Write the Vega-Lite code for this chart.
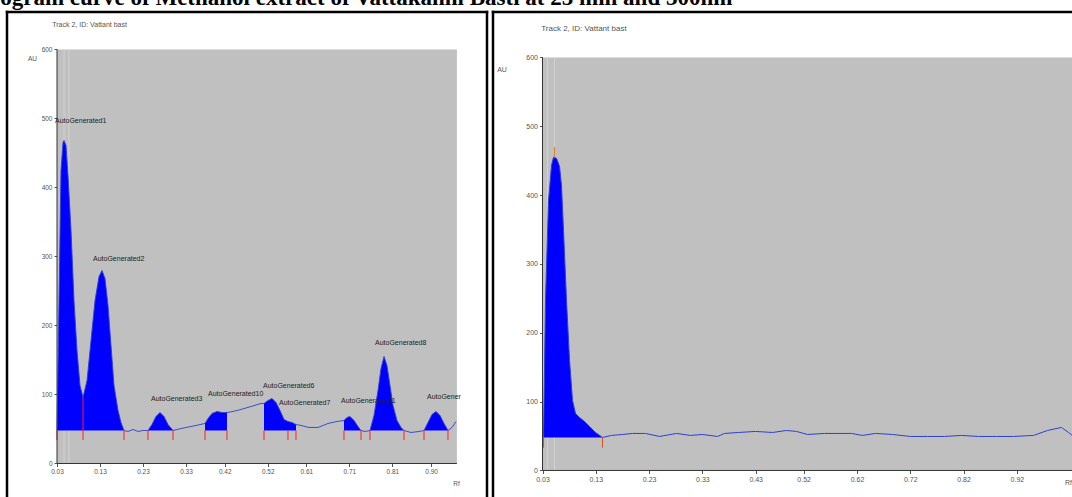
{
 "$schema": "https://vega.github.io/schema/vega-lite/v6.json",
 "padding": {"left": 0, "top": -13, "right": 0, "bottom": 0},
 "background": "white",
 "title": {"text": "ogram curve of Methanol extract of Vattakanni Basti at 25 min and 300nm", "anchor": "start", "frame": "bounds", "font": "Liberation Serif", "fontSize": 23, "fontWeight": "bold", "color": "black", "baseline": "alphabetic", "offset": -18, "dx": -5},
 "spacing": 2,
 "config": {"view": {"stroke": null}, "font": "Liberation Sans"},
 "datasets": {
  "one": [{}],
  "left": [
   {"rf":0.0300,"au":47.8,"peak":"P1"},{"rf":0.0347,"au":236.2,"peak":"P1"},{"rf":0.0393,"au":424.6,"peak":"P1"},{"rf":0.0440,"au":465.2,"peak":"P1"},{"rf":0.0463,"au":468.1,"peak":"P1"},{"rf":0.0509,"au":460.9,"peak":"P1"},{"rf":0.0556,"au":417.4,"peak":"P1"},{"rf":0.0626,"au":337.7,"peak":"P1"},{"rf":0.0695,"au":236.2,"peak":"P1"},{"rf":0.0765,"au":163.8,"peak":"P1"},{"rf":0.0835,"au":113.0,"peak":"P1"},{"rf":0.0905,"au":95.7,"peak":"P1"},
   {"rf":0.0905,"au":95.7,"peak":"P2"},{"rf":0.0998,"au":120.3,"peak":"P2"},{"rf":0.1091,"au":178.3,"peak":"P2"},{"rf":0.1184,"au":236.2,"peak":"P2"},{"rf":0.1277,"au":271.0,"peak":"P2"},{"rf":0.1347,"au":279.7,"peak":"P2"},{"rf":0.1416,"au":268.1,"peak":"P2"},{"rf":0.1486,"au":229.0,"peak":"P2"},{"rf":0.1556,"au":171.0,"peak":"P2"},{"rf":0.1626,"au":113.0,"peak":"P2"},{"rf":0.1719,"au":76.8,"peak":"P2"},{"rf":0.1788,"au":59.4,"peak":"P2"},{"rf":0.1858,"au":47.8,"peak":"P2"},
   {"rf":0.1951,"au":46.4,"peak":""},{"rf":0.2067,"au":49.3,"peak":""},{"rf":0.2184,"au":46.4,"peak":""},{"rf":0.2300,"au":47.8,"peak":""},
   {"rf":0.2416,"au":47.8,"peak":"P3"},{"rf":0.2509,"au":56.5,"peak":"P3"},{"rf":0.2602,"au":68.1,"peak":"P3"},{"rf":0.2695,"au":73.9,"peak":"P3"},{"rf":0.2788,"au":68.1,"peak":"P3"},{"rf":0.2881,"au":56.5,"peak":"P3"},{"rf":0.2998,"au":47.8,"peak":"P3"},
   {"rf":0.3091,"au":49.3,"peak":""},{"rf":0.3300,"au":52.2,"peak":""},{"rf":0.3533,"au":55.1,"peak":""},
   {"rf":0.3742,"au":58.0,"peak":"P4"},{"rf":0.3812,"au":65.2,"peak":"P4"},{"rf":0.3905,"au":72.5,"peak":"P4"},{"rf":0.4021,"au":75.4,"peak":"P4"},{"rf":0.4137,"au":73.9,"peak":"P4"},{"rf":0.4253,"au":73.9,"peak":"P4"},
   {"rf":0.4393,"au":75.4,"peak":""},{"rf":0.4579,"au":78.3,"peak":""},{"rf":0.4812,"au":82.6,"peak":""},{"rf":0.5044,"au":87.0,"peak":""},
   {"rf":0.5114,"au":87.0,"peak":"P5"},{"rf":0.5207,"au":91.3,"peak":"P5"},{"rf":0.5300,"au":94.2,"peak":"P5"},{"rf":0.5393,"au":88.4,"peak":"P5"},{"rf":0.5486,"au":76.8,"peak":"P5"},{"rf":0.5579,"au":63.8,"peak":"P5"},{"rf":0.5672,"au":60.9,"peak":"P5"},{"rf":0.5765,"au":59.4,"peak":"P5"},{"rf":0.5858,"au":56.5,"peak":"P5"},
   {"rf":0.5974,"au":55.1,"peak":""},{"rf":0.6160,"au":52.2,"peak":""},{"rf":0.6370,"au":52.2,"peak":""},{"rf":0.6602,"au":58.0,"peak":""},{"rf":0.6812,"au":60.9,"peak":""},
   {"rf":0.6974,"au":62.3,"peak":"P7"},{"rf":0.7044,"au":66.7,"peak":"P7"},{"rf":0.7114,"au":68.1,"peak":"P7"},{"rf":0.7207,"au":62.3,"peak":"P7"},{"rf":0.7300,"au":53.6,"peak":"P7"},{"rf":0.7370,"au":47.8,"peak":"P7"},
   {"rf":0.7463,"au":46.4,"peak":""},
   {"rf":0.7579,"au":47.8,"peak":"P8"},{"rf":0.7672,"au":69.6,"peak":"P8"},{"rf":0.7765,"au":105.8,"peak":"P8"},{"rf":0.7835,"au":137.7,"peak":"P8"},{"rf":0.7905,"au":155.1,"peak":"P8"},{"rf":0.7974,"au":142.0,"peak":"P8"},{"rf":0.8044,"au":113.0,"peak":"P8"},{"rf":0.8114,"au":84.1,"peak":"P8"},{"rf":0.8207,"au":62.3,"peak":"P8"},{"rf":0.8300,"au":52.2,"peak":"P8"},{"rf":0.8370,"au":47.8,"peak":"P8"},
   {"rf":0.8533,"au":44.9,"peak":""},{"rf":0.8719,"au":46.4,"peak":""},
   {"rf":0.8835,"au":47.8,"peak":"P9"},{"rf":0.8928,"au":59.4,"peak":"P9"},{"rf":0.9021,"au":71.0,"peak":"P9"},{"rf":0.9114,"au":75.4,"peak":"P9"},{"rf":0.9207,"au":69.6,"peak":"P9"},{"rf":0.9300,"au":58.0,"peak":"P9"},{"rf":0.9393,"au":47.8,"peak":"P9"},
   {"rf":0.9486,"au":52.2,"peak":""},{"rf":0.9579,"au":60.9,"peak":""}
  ],
  "leftBounds": [
   {"rf":0.0300,"top":48},{"rf":0.0905,"top":95.7},{"rf":0.1858,"top":48},{"rf":0.2416,"top":48},{"rf":0.2998,"top":48},{"rf":0.3742,"top":48},{"rf":0.4253,"top":48},{"rf":0.5114,"top":48},{"rf":0.5672,"top":48},{"rf":0.5858,"top":48},{"rf":0.6974,"top":48},{"rf":0.7370,"top":48},{"rf":0.7579,"top":48},{"rf":0.8370,"top":48},{"rf":0.8835,"top":48},{"rf":0.9393,"top":48}
  ],
  "leftLabels": [
   {"name":"AutoGenerated1","rf":0.0463,"au":497},
   {"name":"AutoGenerated2","rf":0.1347,"au":297},
   {"name":"AutoGenerated3","rf":0.2695,"au":94},
   {"name":"AutoGenerated10","rf":0.4021,"au":101},
   {"name":"AutoGenerated6","rf":0.5300,"au":112},
   {"name":"AutoGenerated7","rf":0.5672,"au":87},
   {"name":"AutoGenerated11","rf":0.7114,"au":91},
   {"name":"AutoGenerated8","rf":0.7905,"au":175},
   {"name":"AutoGener","rf":0.9114,"au":96}
  ],
  "right": [
   {"rf":0.0319,"au":48.0,"peak":"R1"},{"rf":0.0356,"au":247.1,"peak":"R1"},{"rf":0.0413,"au":392.4,"peak":"R1"},{"rf":0.0469,"au":443.3,"peak":"R1"},{"rf":0.0506,"au":454.9,"peak":"R1"},{"rf":0.0563,"au":453.5,"peak":"R1"},{"rf":0.0619,"au":441.9,"peak":"R1"},{"rf":0.0656,"au":414.2,"peak":"R1"},{"rf":0.0694,"au":348.8,"peak":"R1"},{"rf":0.0750,"au":247.1,"peak":"R1"},{"rf":0.0807,"au":159.9,"peak":"R1"},{"rf":0.0863,"au":101.7,"peak":"R1"},{"rf":0.0919,"au":82.8,"peak":"R1"},{"rf":0.0994,"au":77.0,"peak":"R1"},{"rf":0.1088,"au":71.2,"peak":"R1"},{"rf":0.1182,"au":64.0,"peak":"R1"},{"rf":0.1294,"au":55.2,"peak":"R1"},{"rf":0.1426,"au":48.0,"peak":"R1"},
   {"rf":0.1595,"au":50.9,"peak":""},{"rf":0.1801,"au":52.3,"peak":""},{"rf":0.1989,"au":53.8,"peak":""},{"rf":0.2232,"au":53.8,"peak":""},{"rf":0.2495,"au":49.4,"peak":""},{"rf":0.2814,"au":53.8,"peak":""},{"rf":0.3077,"au":50.9,"peak":""},{"rf":0.3302,"au":52.3,"peak":""},{"rf":0.3583,"au":49.4,"peak":""},{"rf":0.3715,"au":53.8,"peak":""},{"rf":0.3977,"au":55.2,"peak":""},{"rf":0.4296,"au":56.7,"peak":""},{"rf":0.4615,"au":55.2,"peak":""},{"rf":0.4878,"au":58.1,"peak":""},{"rf":0.5066,"au":56.7,"peak":""},{"rf":0.5272,"au":52.3,"peak":""},{"rf":0.5591,"au":53.8,"peak":""},{"rf":0.6097,"au":53.8,"peak":""},{"rf":0.6304,"au":50.9,"peak":""},{"rf":0.6548,"au":53.8,"peak":""},{"rf":0.6867,"au":52.3,"peak":""},{"rf":0.7204,"au":49.4,"peak":""},{"rf":0.7523,"au":49.4,"peak":""},{"rf":0.7842,"au":49.4,"peak":""},{"rf":0.8161,"au":50.9,"peak":""},{"rf":0.8480,"au":49.4,"peak":""},{"rf":0.8818,"au":49.4,"peak":""},{"rf":0.9137,"au":49.4,"peak":""},{"rf":0.9512,"au":50.9,"peak":""},{"rf":0.9775,"au":58.1,"peak":""},{"rf":1.0037,"au":62.5,"peak":""},{"rf":1.0169,"au":55.2,"peak":""},{"rf":1.0263,"au":49.4,"peak":""}
  ],
  "rightBounds": [{"rf":0.0319,"top":48},{"rf":0.1426,"top":48}]
 },
 "hconcat": [
  {
   "width": 480, "height": 486,
   "title": {"text": "Track 2, ID: Vattant bast", "anchor": "start", "dx": 47, "offset": -18, "fontSize": 7, "fontWeight": "normal", "color": "#555"},
   "layer": [
    {"data": {"name": "one"},
     "mark": {"type": "rect", "color": "#c0c0c0"},
     "encoding": {
      "x": {"datum": 0.03, "type": "quantitative", "title": "Rf", "scale": {"domain": [-0.0863, 1.03], "nice": false, "zero": false},
            "axis": {"values": [0.03,0.13,0.23,0.33,0.42,0.52,0.61,0.71,0.81,0.90], "format": ".2f", "offset": -34.5, "domain": false, "grid": false, "tickSize": 3, "tickColor": "#555", "labelFontSize": 6.5, "labelColor": "#555", "labelPadding": 2, "labelOverlap": false, "labelFlush": false, "title": "Rf", "titleX": 449, "titleY": 20, "titleAlign": "center", "titleBaseline": "middle", "titleFontSize": 6.5, "titleFontWeight": "normal", "titleColor": "#555"}},
      "x2": {"datum": 0.96},
      "y": {"datum": 0, "type": "quantitative", "title": "AU", "scale": {"domain": [-50, 654.3], "nice": false, "zero": false},
            "axis": {"values": [0,100,200,300,400,500,600], "offset": -50, "domain": false, "grid": false, "tickSize": 3, "tickColor": "#555", "labelFontSize": 6.5, "labelColor": "#555", "labelPadding": 2, "labelOverlap": false, "labelFlush": false, "title": "AU", "titleAngle": 0, "titleX": -25, "titleY": 46.5, "titleAlign": "center", "titleBaseline": "middle", "titleFontSize": 6.5, "titleFontWeight": "normal", "titleColor": "#555"}},
      "y2": {"datum": 600}
     }},
    {"data": {"name": "one"},
     "mark": {"type": "rule", "color": "#d2d2d2", "strokeWidth": 1},
     "encoding": {"x": {"datum": 0.0463, "type": "quantitative", "title": "Rf"}, "y": {"datum": 0, "type": "quantitative", "title": "AU"}, "y2": {"datum": 600}}},
    {"data": {"name": "one"},
     "mark": {"type": "rule", "color": "#d2d2d2", "strokeWidth": 1},
     "encoding": {"x": {"datum": 0.0579, "type": "quantitative", "title": "Rf"}, "y": {"datum": 0, "type": "quantitative", "title": "AU"}, "y2": {"datum": 600}}},
    {"data": {"name": "left"},
     "transform": [{"filter": "datum.peak != ''"}],
     "mark": {"type": "area", "color": "#0000ff"},
     "encoding": {"x": {"field": "rf", "type": "quantitative", "title": "Rf"}, "y": {"field": "au", "type": "quantitative", "title": "AU"}, "y2": {"datum": 48}, "detail": {"field": "peak"}}},
    {"data": {"name": "left"},
     "mark": {"type": "line", "color": "#2f3fd0", "strokeWidth": 0.9},
     "encoding": {"x": {"field": "rf", "type": "quantitative", "title": "Rf"}, "y": {"field": "au", "type": "quantitative", "title": "AU"}}},
    {"data": {"name": "leftBounds"},
     "mark": {"type": "rule", "color": "#ff2020", "strokeWidth": 1},
     "encoding": {"x": {"field": "rf", "type": "quantitative", "title": "Rf"}, "y": {"field": "top", "type": "quantitative", "title": "AU"}, "y2": {"datum": 34}}},
    {"data": {"name": "one"},
     "mark": {"type": "rule", "color": "#333333", "strokeWidth": 1},
     "encoding": {"x": {"datum": 0.03, "type": "quantitative", "title": "Rf"}, "y": {"datum": 0, "type": "quantitative", "title": "AU"}, "y2": {"datum": 600}}},
    {"data": {"name": "one"},
     "mark": {"type": "rule", "color": "#333333", "strokeWidth": 1},
     "encoding": {"x": {"datum": 0.03, "type": "quantitative", "title": "Rf"}, "x2": {"datum": 0.96}, "y": {"datum": 0, "type": "quantitative", "title": "AU"}}},
    {"data": {"name": "leftLabels"},
     "mark": {"type": "text", "align": "left", "baseline": "middle", "dx": -9, "fontSize": 7, "color": "#222222"},
     "encoding": {"x": {"field": "rf", "type": "quantitative", "title": "Rf"}, "y": {"field": "au", "type": "quantitative", "title": "AU"}, "text": {"field": "name"}}},
    {"data": {"name": "one"},
     "mark": {"type": "rule", "color": "black", "strokeWidth": 2.5, "strokeCap": "square"},
     "encoding": {"x": {"datum": -0.0863, "type": "quantitative", "title": "Rf"}, "y": {"datum": -50, "type": "quantitative", "title": "AU"}, "y2": {"datum": 654.3}}},
    {"data": {"name": "one"},
     "mark": {"type": "rule", "color": "black", "strokeWidth": 2.5, "strokeCap": "square"},
     "encoding": {"x": {"datum": 1.03, "type": "quantitative", "title": "Rf"}, "y": {"datum": -50, "type": "quantitative", "title": "AU"}, "y2": {"datum": 654.3}}},
    {"data": {"name": "one"},
     "mark": {"type": "rule", "color": "black", "strokeWidth": 2.5, "strokeCap": "square"},
     "encoding": {"x": {"datum": -0.0863, "type": "quantitative", "title": "Rf"}, "x2": {"datum": 1.03}, "y": {"datum": 654.3, "type": "quantitative", "title": "AU"}}}
   ]
  },
  {
   "width": 581, "height": 486,
   "title": {"text": "Track 2, ID: Vattant bast", "anchor": "start", "dx": 50, "offset": -23, "fontSize": 8, "fontWeight": "normal", "color": "#555"},
   "layer": [
    {"data": {"name": "one"},
     "mark": {"type": "rect", "color": "#c0c0c0"},
     "encoding": {
      "x": {"datum": 0.03, "type": "quantitative", "title": "Rf", "scale": {"domain": [-0.0629, 1.0272], "nice": false, "zero": false},
            "axis": {"values": [0.03,0.13,0.23,0.33,0.43,0.52,0.62,0.72,0.82,0.92], "format": ".2f", "offset": -27.5, "domain": false, "grid": false, "tickSize": 3, "tickColor": "#555", "labelFontSize": 7, "labelColor": "#555", "labelPadding": 2, "labelOverlap": false, "labelFlush": false, "title": "Rf", "titleX": 575, "titleY": 12, "titleAlign": "center", "titleBaseline": "middle", "titleFontSize": 7, "titleFontWeight": "normal", "titleColor": "#555"}},
      "x2": {"datum": 1.0272},
      "y": {"datum": 0, "type": "quantitative", "title": "AU", "scale": {"domain": [-40, 666.1], "nice": false, "zero": false},
            "axis": {"values": [0,100,200,300,400,500,600], "offset": -49.5, "domain": false, "grid": false, "tickSize": 3, "tickColor": "#555", "labelFontSize": 7, "labelColor": "#555", "labelPadding": 2, "labelOverlap": false, "labelFlush": false, "title": "AU", "titleAngle": 0, "titleX": -41, "titleY": 57.5, "titleAlign": "center", "titleBaseline": "middle", "titleFontSize": 7, "titleFontWeight": "normal", "titleColor": "#555"}},
      "y2": {"datum": 600}
     }},
    {"data": {"name": "one"},
     "mark": {"type": "rule", "color": "#d2d2d2", "strokeWidth": 1},
     "encoding": {"x": {"datum": 0.0394, "type": "quantitative", "title": "Rf"}, "y": {"datum": 0, "type": "quantitative", "title": "AU"}, "y2": {"datum": 600}}},
    {"data": {"name": "one"},
     "mark": {"type": "rule", "color": "#d2d2d2", "strokeWidth": 1},
     "encoding": {"x": {"datum": 0.0525, "type": "quantitative", "title": "Rf"}, "y": {"datum": 0, "type": "quantitative", "title": "AU"}, "y2": {"datum": 600}}},
    {"data": {"name": "right"},
     "transform": [{"filter": "datum.peak != ''"}],
     "mark": {"type": "area", "color": "#0000ff"},
     "encoding": {"x": {"field": "rf", "type": "quantitative", "title": "Rf"}, "y": {"field": "au", "type": "quantitative", "title": "AU"}, "y2": {"datum": 48}, "detail": {"field": "peak"}}},
    {"data": {"name": "right"},
     "mark": {"type": "line", "color": "#2f3fd0", "strokeWidth": 1},
     "encoding": {"x": {"field": "rf", "type": "quantitative", "title": "Rf"}, "y": {"field": "au", "type": "quantitative", "title": "AU"}}},
    {"data": {"name": "rightBounds"},
     "mark": {"type": "rule", "color": "#e05020", "strokeWidth": 1},
     "encoding": {"x": {"field": "rf", "type": "quantitative", "title": "Rf"}, "y": {"field": "top", "type": "quantitative", "title": "AU"}, "y2": {"datum": 33}}},
    {"data": {"name": "one"},
     "mark": {"type": "rule", "color": "#e08030", "strokeWidth": 1},
     "encoding": {"x": {"datum": 0.0525, "type": "quantitative", "title": "Rf"}, "y": {"datum": 455, "type": "quantitative", "title": "AU"}, "y2": {"datum": 470}}},
    {"data": {"name": "one"},
     "mark": {"type": "rule", "color": "#333333", "strokeWidth": 1},
     "encoding": {"x": {"datum": 0.03, "type": "quantitative", "title": "Rf"}, "y": {"datum": 0, "type": "quantitative", "title": "AU"}, "y2": {"datum": 600}}},
    {"data": {"name": "one"},
     "mark": {"type": "rule", "color": "#333333", "strokeWidth": 1},
     "encoding": {"x": {"datum": 0.03, "type": "quantitative", "title": "Rf"}, "x2": {"datum": 1.0272}, "y": {"datum": 0, "type": "quantitative", "title": "AU"}}},
    {"data": {"name": "one"},
     "mark": {"type": "rule", "color": "black", "strokeWidth": 2.5, "strokeCap": "square"},
     "encoding": {"x": {"datum": -0.0629, "type": "quantitative", "title": "Rf"}, "y": {"datum": -40, "type": "quantitative", "title": "AU"}, "y2": {"datum": 666.1}}},
    {"data": {"name": "one"},
     "mark": {"type": "rule", "color": "black", "strokeWidth": 2.5, "strokeCap": "square"},
     "encoding": {"x": {"datum": -0.0629, "type": "quantitative", "title": "Rf"}, "x2": {"datum": 1.0272}, "y": {"datum": 666.1, "type": "quantitative", "title": "AU"}}}
   ]
  }
 ]
}
